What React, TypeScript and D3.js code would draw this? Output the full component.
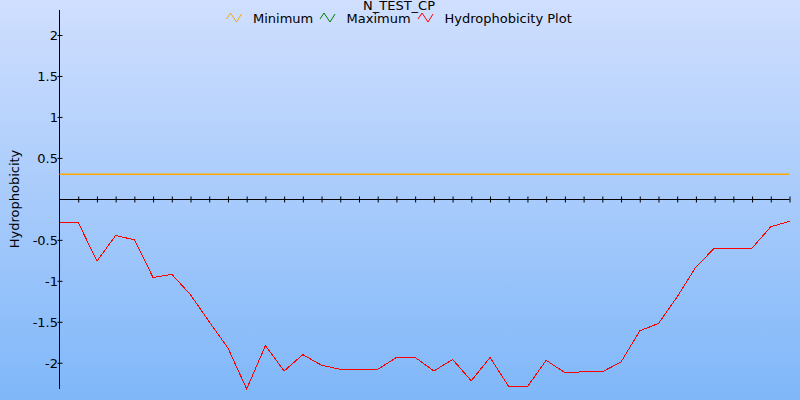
import * as d3 from "d3";
import React, { useEffect, useRef } from "react";

// hydrophobicity values, one per residue window
const hydrophobicity = [
  -0.287, -0.287, -0.76, -0.446, -0.5, -0.96, -0.92, -1.17, -1.5, -1.82,
  -2.32, -1.79, -2.1, -1.9, -2.03, -2.08, -2.08, -2.08, -1.935, -1.935,
  -2.1, -1.96, -2.22, -1.935, -2.29, -2.29, -1.97, -2.12, -2.11, -2.11,
  -1.99, -1.61, -1.52, -1.195, -0.83, -0.6, -0.6, -0.6, -0.34, -0.275,
];
const minimumValue = 0.3;
const maximumValue: number[] = []; // maximum series has no visible line
const yTicks = [2, 1.5, 1, 0.5, -0.5, -1, -1.5, -2];
const legendItems = [
  { label: "Minimum", color: "#ffa500" },
  { label: "Maximum", color: "#008000" },
  { label: "Hydrophobicity Plot", color: "#ff0000" },
];
const chartTitle = "N_TEST_CP";
const yTitle = "Hydrophobicity";

const W = 800;
const H = 400;

export default function App() {
  const svgRef = useRef<SVGSVGElement>(null);

  useEffect(() => {
    const svg = d3.select(svgRef.current);
    svg.selectAll("*").remove();
    const font = "'DejaVu Sans', Verdana, sans-serif";

    // 背景のグラデーション
    const defs = svg.append("defs");
    const grad = defs.append("linearGradient").attr("id", "bg").attr("x1", 0).attr("y1", 0).attr("x2", 0).attr("y2", 1);
    grad.append("stop").attr("offset", "0%").attr("stop-color", "#d0dffe");
    grad.append("stop").attr("offset", "100%").attr("stop-color", "#7fb7f9");
    svg.append("rect").attr("width", W).attr("height", H).attr("fill", "url(#bg)");

    const x = d3.scaleLinear().domain([0, hydrophobicity.length - 1]).range([59.5, 789.5]);
    const y = d3.scaleLinear().domain([-2.32, 2.305]).range([389, 10]);

    // y axis
    const yAxis = svg.append("g").attr("transform", "translate(59.5,0)")
      .call(d3.axisLeft(y).tickValues(yTicks).tickSize(2.5).tickFormat((d) => String(d)));
    yAxis.select(".domain").attr("d", `M0,${y.range()[1]}V${y.range()[0]}`).attr("stroke", "#000");
    yAxis.selectAll(".tick line").attr("x2", 3).attr("x1", -2).attr("stroke", "#000");
    yAxis.selectAll(".tick text")
      .attr("x", -1.5)
      .attr("dy", "0.35em")
      .style("font-family", font)
      .style("font-size", "13px")
      .attr("fill", "#000");

    // x axis along the zero line
    const zeroY = Math.round(y(0)) + 0.5;
    const xAxis = svg.append("g").attr("transform", `translate(0,${zeroY})`)
      .call(d3.axisBottom(x).tickValues(d3.range(1, hydrophobicity.length)).tickSize(3).tickFormat(() => ""));
    xAxis.select(".domain").attr("d", `M${x.range()[0]},0H${x.range()[1]}`).attr("stroke", "#000");
    xAxis.selectAll(".tick line").attr("y1", -3).attr("y2", 3).attr("stroke", "#000");

    // minimum line
    svg.append("line")
      .attr("x1", x(0)).attr("x2", x(hydrophobicity.length - 1))
      .attr("y1", y(minimumValue)).attr("y2", y(minimumValue))
      .attr("stroke", "#ffa500").attr("stroke-width", 1.5);

    // maximum line (empty)
    if (maximumValue.length) {
      svg.append("path").datum(maximumValue)
        .attr("d", d3.line<number>().x((_, i) => x(i)).y((d) => y(d)))
        .attr("fill", "none").attr("stroke", "#008000");
    }

    // hydrophobicity plot
    svg.append("path").datum(hydrophobicity)
      .attr("d", d3.line<number>().x((_, i) => x(i)).y((d) => y(d)))
      .attr("fill", "none")
      .attr("stroke", "#ff0000")
      .attr("stroke-width", 1)
      .style("shape-rendering", "crispEdges");

    // title
    svg.append("text")
      .attr("x", 399).attr("y", 10)
      .attr("text-anchor", "middle")
      .style("font-family", font).style("font-size", "13px")
      .attr("fill", "#000")
      .text(chartTitle);

    // legend
    const legendX = [226.5, 320, 418];
    const icon = d3.line()([[0, 7], [4, 1], [10, 10], [15, 2]]);
    legendItems.forEach((item, i) => {
      const g = svg.append("g").attr("transform", `translate(${legendX[i]},12)`);
      g.append("path").attr("d", icon).attr("fill", "none").attr("stroke", item.color).attr("stroke-width", 1);
      g.append("text")
        .attr("x", 26.5).attr("y", 11)
        .style("font-family", font).style("font-size", "13px")
        .attr("fill", "#000")
        .text(item.label);
    });

    // y title
    svg.append("text")
      .attr("transform", "translate(19,199) rotate(-90)")
      .attr("text-anchor", "middle")
      .style("font-family", font).style("font-size", "13px")
      .attr("fill", "#000")
      .text(yTitle);
  }, []);

  return (
    <svg
      ref={svgRef}
      width={W}
      height={H}
      style={{ position: "absolute", left: 0, top: 0, display: "block" }}
    />
  );
}
